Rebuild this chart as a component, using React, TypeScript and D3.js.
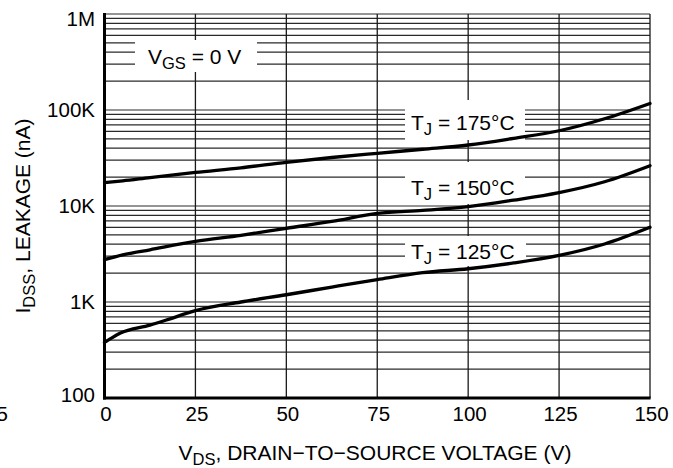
import React from "react";
import * as d3 from "d3";

// drain-to-source voltage (V) and leakage (nA)
const vds175 = [0, 5, 12.5, 25, 37.5, 50, 62.5, 75, 87.5, 100, 112.5, 125, 137.5, 150];
const idss175 = [17500, 18300, 19800, 22400, 25000, 28500, 32000, 35400, 39000, 43200, 50700, 60800, 81000, 117000];

const vds150 = [0, 5, 12.5, 25, 37.5, 50, 62.5, 75, 87.5, 100, 112.5, 125, 137.5, 150];
const idss150 = [2760, 3100, 3500, 4270, 4950, 5860, 6900, 8400, 9000, 9840, 11500, 13800, 17900, 26300];

const vds125 = [0, 1, 4.25, 12.5, 17, 25, 37.5, 50, 62.5, 75, 87.5, 100, 112.5, 125, 137.5, 150];
const idss125 = [380, 400, 472, 575, 649, 813, 1000, 1190, 1430, 1710, 2020, 2220, 2550, 3060, 4020, 6000];

const xTicks = [0, 25, 50, 75, 100, 125, 150];
const yTicks = [100, 1000, 10000, 100000, 1000000];
const yTickLabels = ["100", "1K", "10K", "100K", "1M"];

const W = 673;
const H = 468;
const FONT = "'Liberation Sans', Arial, Helvetica, sans-serif";

export default function App() {
  const x = d3.scaleLinear().domain([0, 150]).range([104.5, 650]);
  const y = d3.scaleLog().domain([100, 1e6]).range([398, 14]);

  const minor: number[] = [];
  for (let d = 100; d < 1e6; d *= 10) {
    for (let k = 1; k <= 9; k++) minor.push(d * k);
  }
  minor.push(1e6);

  const line = d3
    .line<[number, number]>()
    .x((d) => x(d[0]))
    .y((d) => y(d[1]))
    .curve(d3.curveMonotoneX);

  const series = [
    vds175.map((v, i) => [v, idss175[i]] as [number, number]),
    vds150.map((v, i) => [v, idss150[i]] as [number, number]),
    vds125.map((v, i) => [v, idss125[i]] as [number, number]),
  ];

  // white boxes behind the annotations
  const boxes = [
    { x0: 135, x1: 257, y0: 40, y1: 72 },
    { x0: 405, x1: 525, y0: 100, y1: 140 },
    { x0: 405, x1: 525, y0: 162, y1: 204 },
    { x0: 405, x1: 526, y0: 236, y1: 266 },
  ];

  const [x0, x1] = x.range();
  const [yb, yt] = y.range();

  return (
    <svg width={W} height={H} style={{ position: "absolute", left: 0, top: 0, background: "#fff" }} fontFamily={FONT}>
      {/* horizontal grid */}
      {minor.map((v) => (
        <line key={"h" + v} x1={x0} x2={x1} y1={y(v)} y2={y(v)} stroke="#2a2a2a" strokeWidth={1.2} />
      ))}
      {/* vertical grid */}
      {xTicks.map((t) => (
        <line key={"v" + t} x1={x(t)} x2={x(t)} y1={yt} y2={yb} stroke="#1a1a1a" strokeWidth={1.3} />
      ))}
      {boxes.map((b, i) => (
        <rect key={"b" + i} x={b.x0} y={b.y0} width={b.x1 - b.x0} height={b.y1 - b.y0} fill="#fff" />
      ))}
      {/* axes */}
      <line x1={x0} x2={x0} y1={yt - 1} y2={yb + 1.5} stroke="#000" strokeWidth={3} />
      <line x1={x0 - 1.5} x2={x1 + 0.6} y1={yb} y2={yb} stroke="#000" strokeWidth={3} />

      {series.map((s, i) => (
        <path key={"s" + i} d={line(s) || ""} fill="none" stroke="#000" strokeWidth={3.3} strokeLinecap="round" />
      ))}

      {/* tick labels */}
      {yTicks.map((t, i) => (
        <text key={"yl" + t} x={95} y={Math.min(Math.max(y(t) + 7, 26), 402)} textAnchor="end" fontSize={20.5} fill="#000">
          {yTickLabels[i]}
        </text>
      ))}
      {xTicks.map((t) => (
        <text key={"xl" + t} x={x(t) + 1.5} y={421} textAnchor="middle" fontSize={20.5} fill="#000">
          {t}
        </text>
      ))}
      <text x={8} y={421} textAnchor="end" fontSize={20.5} fill="#000">5</text>

      {/* annotations */}
      <text x={148} y={64} fontSize={21} fill="#000">
        V<tspan fontSize={16.5} dy={5}>GS</tspan>
        <tspan dy={-5}> = 0 V</tspan>
      </text>
      <text x={411} y={130} fontSize={21} fill="#000">
        T<tspan fontSize={16.5} dy={5}>J</tspan>
        <tspan dy={-5}> = 175°C</tspan>
      </text>
      <text x={411} y={195} fontSize={21} fill="#000">
        T<tspan fontSize={16.5} dy={5}>J</tspan>
        <tspan dy={-5}> = 150°C</tspan>
      </text>
      <text x={411} y={259} fontSize={21} fill="#000">
        T<tspan fontSize={16.5} dy={5}>J</tspan>
        <tspan dy={-5}> = 125°C</tspan>
      </text>

      {/* axis titles */}
      <text x={375} y={460} textAnchor="middle" fontSize={21} fill="#000">
        V<tspan fontSize={16.5} dy={5}>DS</tspan>
        <tspan dy={-5}>, DRAIN−TO−SOURCE VOLTAGE (V)</tspan>
      </text>
      <text transform="translate(30,216) rotate(-90)" textAnchor="middle" fontSize={21} fill="#000">
        I<tspan fontSize={16.5} dy={5}>DSS</tspan>
        <tspan dy={-5}>, LEAKAGE (nA)</tspan>
      </text>
    </svg>
  );
}
